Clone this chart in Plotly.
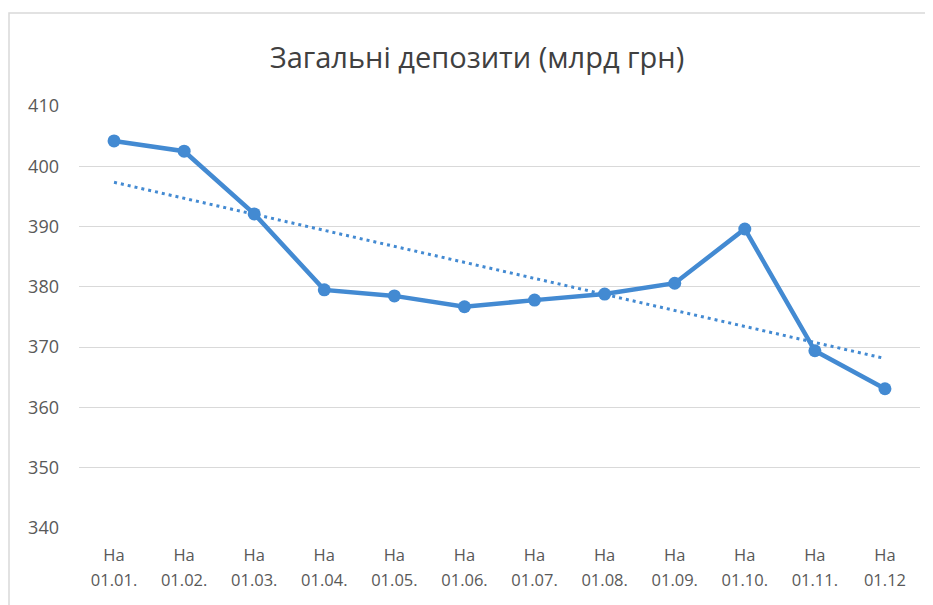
import numpy as np
import plotly.graph_objects as go

categories = ["На<br>01.01.", "На<br>01.02.", "На<br>01.03.", "На<br>01.04.", "На<br>01.05.", "На<br>01.06.",
              "На<br>01.07.", "На<br>01.08.", "На<br>01.09.", "На<br>01.10.", "На<br>01.11.", "На<br>01.12"]
deposits = [404.2, 402.5, 392.1, 379.5, 378.5, 376.7, 377.8, 378.8, 380.6, 389.6, 369.4, 363.1]
y_ticks = [340, 350, 360, 370, 380, 390, 400, 410]

xi = np.arange(len(deposits))
slope, intercept = np.polyfit(xi, deposits, 1)
trend = slope * xi + intercept

tick_text = ["<br>".join("<span style='font-size:16.5px'>%s</span>" % p for p in c.split("<br>"))
             for c in categories]

color = "#438ad2"
fig = go.Figure()
fig.add_trace(go.Scatter(x=xi, y=trend, mode="lines",
                         line=dict(color=color, width=3, dash="3px,4px"), hoverinfo="skip"))
fig.add_trace(go.Scatter(x=xi, y=deposits, mode="lines+markers",
                         line=dict(color=color, width=4.5),
                         marker=dict(color=color, size=13)))

font = "Open Sans, Noto Sans, sans-serif"
off = 8  # page offset compensation
L, R, T, B = 79 - off, 920 - off, 106 - off, 528 - off
fig.update_layout(
    width=933, height=605,
    margin=dict(l=L, r=933 - R, t=T, b=605 - B),
    paper_bgcolor="white", plot_bgcolor="white",
    showlegend=False,
    title=dict(text="Загальні депозити (млрд грн)", x=(477 - off) / 933, xanchor="center",
               y=1 - (58 - off) / 605, yanchor="middle", yref="container",
               font=dict(family=font, size=29, color="#404040")),
    xaxis=dict(range=[-0.5, 11.5], tickmode="array", tickvals=list(xi), ticktext=tick_text,
               showgrid=False, zeroline=False, showline=False, ticks="", ticklabelstandoff=13,
               tickfont=dict(family=font, size=19, color="#595959")),
    yaxis=dict(range=[340, 410], tickmode="array", tickvals=y_ticks,
               showgrid=True, gridcolor="#d9d9d9", gridwidth=1, zeroline=False, showline=False,
               ticks="", ticklabelstandoff=19,
               tickfont=dict(family=font, size=18, color="#595959")),
    shapes=[dict(type="rect", xref="paper", yref="paper",
                 x0=(1 - L) / (R - L), x1=1.2, y0=-0.5, y1=(B - (13 - off)) / (B - T),
                 line=dict(color="#d9d9d9", width=1.5), fillcolor="rgba(0,0,0,0)", layer="below")],
)
fig.write_html("out.html")
